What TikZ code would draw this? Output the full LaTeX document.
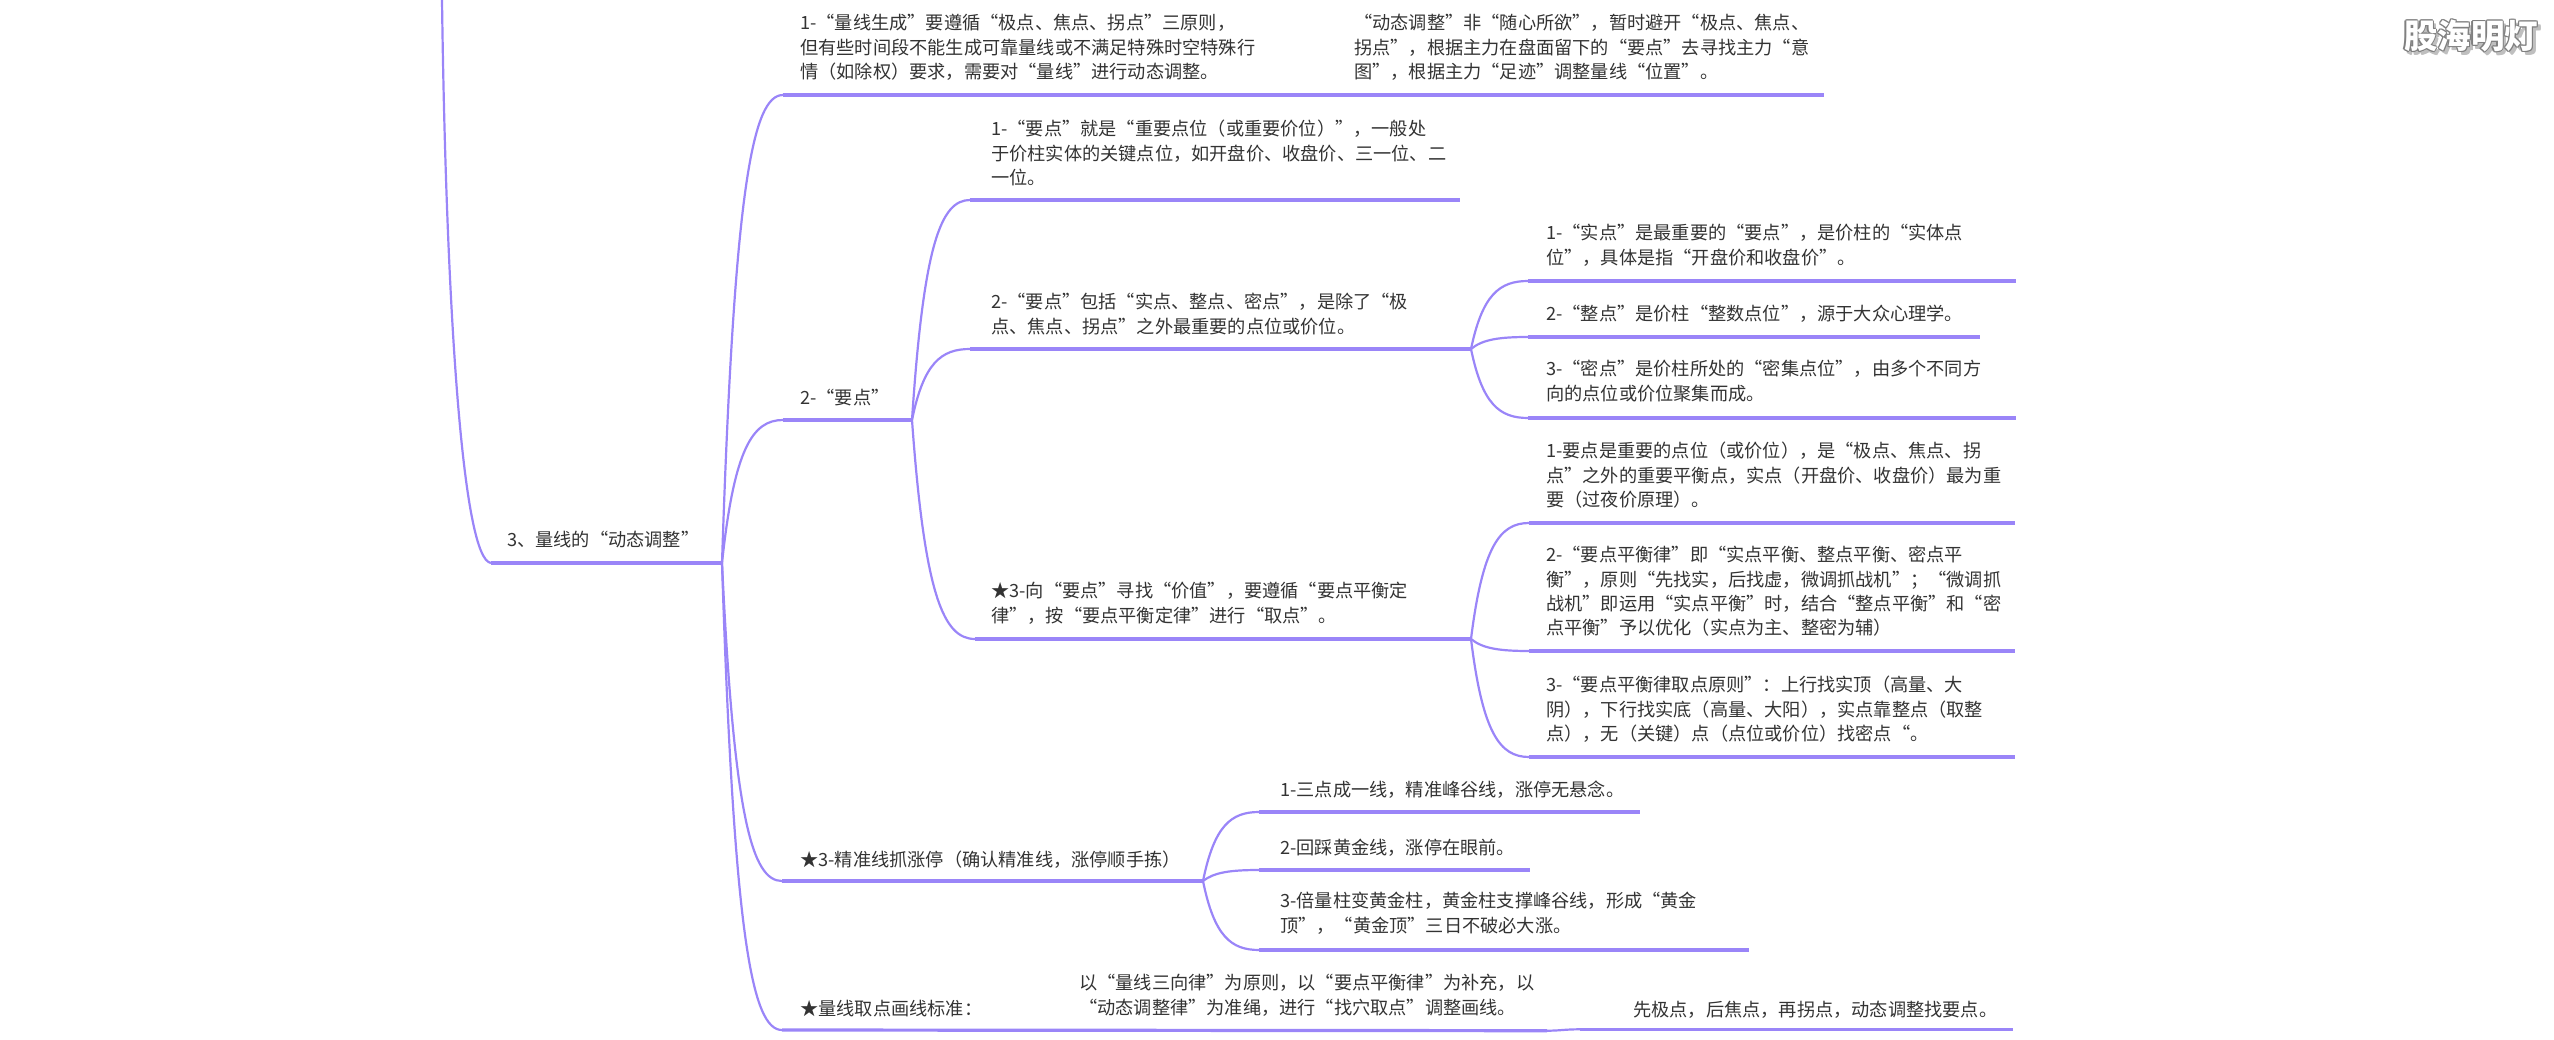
\documentclass[tikz,border=0pt]{standalone}
\usepackage{fontspec}
\usetikzlibrary{calc}
\setmainfont{Noto Sans CJK SC}
\definecolor{linkcol}{HTML}{9A85F8}
\definecolor{textcol}{HTML}{333333}
\newcommand{\dou}{^^^^ff0c}
\newcommand{\zuo}{^^^^ff08}
\newcommand{\you}{^^^^ff09}
\newcommand{\fen}{^^^^ff1b}
\newcommand{\mao}{^^^^ff1a}
\begin{document}
\begin{tikzpicture}[x=1pt,y=-1pt]
    \tikzstyle{topic}=[anchor=north west,inner sep=0pt,align=left,text=textcol,font=\fontsize{18.2}{24.4}\selectfont,execute at begin node=\strut]
    \tikzstyle{link}=[draw=linkcol,line width=2.2pt]
    \tikzstyle{rulebar}=[draw=linkcol,line width=3.2pt]
    \tikzstyle{stamp}=[inner sep=0pt,font=\fontsize{33.5}{34}\selectfont\bfseries]
    \useasboundingbox (0,0) rectangle (2554,1040);
    % junctions
    \coordinate (rootj) at (722,563);
    \coordinate (yaoj) at (912,420);
    \coordinate (a2j) at (1471,349);
    \coordinate (a3j) at (1471,639);
    \coordinate (jzj) at (1203,881);
    % rule ends
    \coordinate (trunk) at (442,0);
    \coordinate (roots) at (491,563);
    \coordinate (t1s) at (783,95);  \coordinate (t1e) at (1266,95);
    \coordinate (t2e) at (1824,95);
    \coordinate (yaos) at (783,420);
    \coordinate (jzs) at (782,881);
    \coordinate (stds) at (782,1030); \coordinate (stde) at (1547,1030.7);
    \coordinate (rs) at (1580,1029.3); \coordinate (re) at (2013,1029.3);
    \coordinate (a1s) at (970,200); \coordinate (a1e) at (1460,200);
    \coordinate (a2s) at (970,349);
    \coordinate (a3s) at (975,639);
    \coordinate (b1s) at (1528,281); \coordinate (b1e) at (2016,281);
    \coordinate (b2s) at (1528,337); \coordinate (b2e) at (1980,337);
    \coordinate (b3s) at (1528,418); \coordinate (b3e) at (2016,418);
    \coordinate (c1s) at (1529,523); \coordinate (c1e) at (2015,523);
    \coordinate (c2s) at (1529,651); \coordinate (c2e) at (2015,651);
    \coordinate (c3s) at (1529,757); \coordinate (c3e) at (2015,757);
    \coordinate (d1s) at (1259,812); \coordinate (d1e) at (1640,812);
    \coordinate (d2s) at (1259,870); \coordinate (d2e) at (1530,870);
    \coordinate (d3s) at (1259,950); \coordinate (d3e) at (1749,950);
    % rules under the texts
    \foreach \s/\e in {roots/rootj,t1s/t1e,t1e/t2e,yaos/yaoj,jzs/jzj,stds/stde,rs/re,a1s/a1e,a2s/a2j,a3s/a3j,b1s/b1e,b2s/b2e,b3s/b3e,c1s/c1e,c2s/c2e,c3s/c3e,d1s/d1e,d2s/d2e,d3s/d3e}
        \draw[rulebar] (\s) -- (\e);
    % curved links
    \draw[link] (trunk) .. controls (446,300) and (462,560) .. (roots);
    \draw[link] (stde) .. controls (1560,1030.7) and (1565,1029.3) .. (rs);
    \foreach \s/\e in {rootj/t1s,rootj/yaos,rootj/jzs,rootj/stds,yaoj/a1s,yaoj/a2s,yaoj/a3s,a2j/b1s,a2j/b2s,a2j/b3s,a3j/c1s,a3j/c2s,a3j/c3s,jzj/d1s,jzj/d2s,jzj/d3s}
        \draw[link] let \p1=(\s),\p2=(\e) in (\p1) .. controls (\x1+0.2*\x2-0.2*\x1,\y1+0.8*\y2-0.8*\y1) and (\x1+0.5*\x2-0.5*\x1,\y2) .. (\p2);
    % texts
    \node[topic] (root) at (507,529) {3、量线的“动态调整”};
    \node[topic] (t1) at (800,14) {1-“量线生成”要遵循“极点、焦点、拐点”三原则\dou\\但有些时间段不能生成可靠量线或不满足特殊时空特殊行\\情\zuo 如除权\you 要求\dou 需要对“量线”进行动态调整。};
    \node[topic] (t2) at (1354,14) {“动态调整”非“随心所欲”\dou 暂时避开“极点、焦点、\\拐点”\dou 根据主力在盘面留下的“要点”去寻找主力“意\\图”\dou 根据主力“足迹”调整量线“位置”。};
    \node[topic] (yao) at (800,387) {2-“要点”};
    \node[topic] (a1) at (991,120) {1-“要点”就是“重要点位\zuo 或重要价位\you ”\dou 一般处\\于价柱实体的关键点位\dou 如开盘价、收盘价、三一位、二\\一位。};
    \node[topic] (a2) at (991,293) {2-“要点”包括“实点、整点、密点”\dou 是除了“极\\点、焦点、拐点”之外最重要的点位或价位。};
    \node[topic] (a3) at (991,582) {★3-向“要点”寻找“价值”\dou 要遵循“要点平衡定\\律”\dou 按“要点平衡定律”进行“取点”。};
    \node[topic] (b1) at (1546,224) {1-“实点”是最重要的“要点”\dou 是价柱的“实体点\\位”\dou 具体是指“开盘价和收盘价”。};
    \node[topic] (b2) at (1546,303) {2-“整点”是价柱“整数点位”\dou 源于大众心理学。};
    \node[topic] (b3) at (1546,360) {3-“密点”是价柱所处的“密集点位”\dou 由多个不同方\\向的点位或价位聚集而成。};
    \node[topic] (c1) at (1546,442) {1-要点是重要的点位\zuo 或价位\you \dou 是“极点、焦点、拐\\点”之外的重要平衡点\dou 实点\zuo 开盘价、收盘价\you 最为重\\要\zuo 过夜价原理\you 。};
    \node[topic] (c2) at (1546,546) {2-“要点平衡律”即“实点平衡、整点平衡、密点平\\衡”\dou 原则“先找实\dou 后找虚\dou 微调抓战机”\fen “微调抓\\战机”即运用“实点平衡”时\dou 结合“整点平衡”和“密\\点平衡”予以优化\zuo 实点为主、整密为辅\you};
    \node[topic] (c3) at (1546,676) {3-“要点平衡律取点原则”\mao 上行找实顶\zuo 高量、大\\阴\you \dou 下行找实底\zuo 高量、大阳\you \dou 实点靠整点\zuo 取整\\点\you \dou 无\zuo 关键\you 点\zuo 点位或价位\you 找密点“。};
    \node[topic] (jz) at (800,849) {★3-精准线抓涨停\zuo 确认精准线\dou 涨停顺手拣\you};
    \node[topic] (d1) at (1280,779) {1-三点成一线\dou 精准峰谷线\dou 涨停无悬念。};
    \node[topic] (d2) at (1280,837) {2-回踩黄金线\dou 涨停在眼前。};
    \node[topic] (d3) at (1280,892) {3-倍量柱变黄金柱\dou 黄金柱支撑峰谷线\dou 形成“黄金\\顶”\dou “黄金顶”三日不破必大涨。};
    \node[topic] (std) at (800,998) {★量线取点画线标准\mao};
    \node[topic] (mid) at (1079,974) {以“量线三向律”为原则\dou 以“要点平衡律”为补充\dou 以\\“动态调整律”为准绳\dou 进行“找穴取点”调整画线。};
    \node[topic] (rnote) at (1633,999) {先极点\dou 后焦点\dou 再拐点\dou 动态调整找要点。};
    % watermark
    \foreach \i/\dx/\dy in {1/3.5/3.5,2/2.5/3.5,3/3.5/2.5,4/2.5/2.5}
        \node[stamp,text=black!25] (shade\i) at (2471+\dx,36+\dy) {股海明灯};
    \foreach \i/\dx/\dy in {1/-1.2/0,2/1.2/0,3/0/-1.2,4/0/1.2,5/-0.9/-0.9,6/0.9/-0.9,7/-0.9/0.9,8/0.9/0.9}
        \node[stamp,text=black!50] (edge\i) at (2471+\dx,36+\dy) {股海明灯};
    \node[stamp,text=white] (wm) at (2471,36) {股海明灯};
  \end{tikzpicture}
\end{document}
